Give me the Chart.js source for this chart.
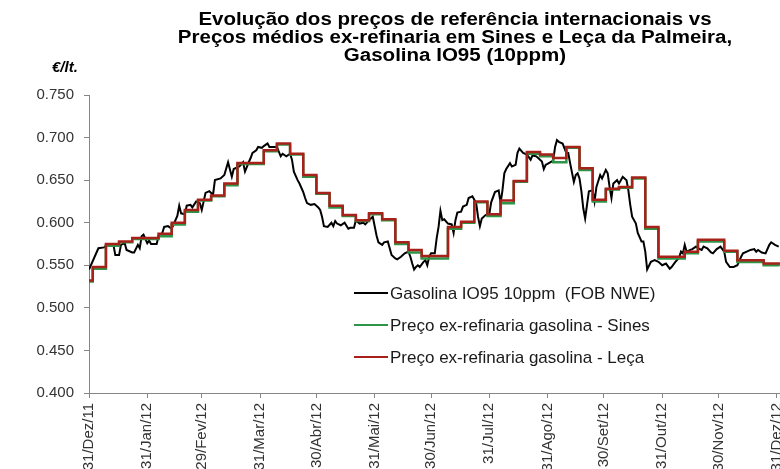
<!DOCTYPE html>
<html>
<head>
<meta charset="utf-8">
<script src="https://cdn.jsdelivr.net/npm/chart.js@4.4.0/dist/chart.umd.min.js"></script>
<style>
  html, body { margin: 0; padding: 0; width: 780px; height: 469px; overflow: hidden; background: #fff; }
  #wrap { width: 800px; height: 500px; }
</style>
</head>
<body>
<div id="wrap"><canvas id="chart" width="800" height="500"></canvas></div>
<script>
// tick positions: days since 31/Dez/11
const tickDays = [0, 31, 60, 91, 121, 152, 182, 213, 244, 274, 305, 335, 366];
const tickLabels = ["31/Dez/11", "31/Jan/12", "29/Fev/12", "31/Mar/12", "30/Abr/12", "31/Mai/12",
  "30/Jun/12", "31/Jul/12", "31/Ago/12", "30/Set/12", "31/Out/12", "30/Nov/12", "31/Dez/12"];
const yTicks = [0.400, 0.450, 0.500, 0.550, 0.600, 0.650, 0.700, 0.750];

const titleLines = [
  "Evolução dos preços de referência internacionais vs",
  "Preços médios ex-refinaria em Sines e Leça da Palmeira,",
  "Gasolina IO95 (10ppm)"
];
const unitLabel = "€/lt.";

// Gasolina IO95 10ppm (FOB NWE)
const fobDays = [0, 5, 8, 10, 13, 14, 16, 17, 19, 20, 23, 24, 26, 27, 28, 29, 31, 32, 33, 36,
  37, 39, 40, 42, 44, 47, 48, 49, 51, 52, 54, 55, 57, 59, 60, 62, 64, 66, 67, 70,
  72, 74, 76, 77, 80, 82, 83, 85, 86, 87, 89, 90, 92, 93, 95, 96, 99, 100, 102, 103,
  105, 107, 108, 109, 111, 112, 114, 115, 116, 118, 120, 122, 123, 124, 125, 127, 129, 130, 131, 132,
  134, 136, 138, 139, 141, 142, 144, 146, 147, 149, 151, 153, 154, 156, 157, 159, 160, 161, 163, 164,
  166, 168, 170, 171, 172, 173, 174, 175, 176, 178, 179, 180, 181, 182, 184, 185, 186, 187, 188, 189,
  191, 193, 194, 195, 196, 198, 199, 201, 202, 204, 206, 207, 208, 209, 211, 213, 214, 216, 218, 219,
  220, 221, 222, 224, 225, 227, 228, 229, 231, 233, 235, 236, 238, 239, 241, 242, 243, 244, 247, 248,
  249, 250, 252, 254, 255, 256, 258, 259, 260, 261, 262, 263, 264, 265, 266, 268, 269, 270, 272, 273,
  275, 276, 277, 278, 279, 281, 282, 283, 284, 286, 287, 288, 289, 291, 292, 294, 295, 296, 297, 299,
  301, 303, 305, 307, 309, 310, 312, 314, 315, 316, 317, 318, 320, 321, 323, 324, 326, 327, 329, 331,
  332, 334, 336, 338, 339, 341, 343, 345, 347, 348, 350, 352, 354, 355, 356, 358, 360, 362, 363, 365, 367];
const fobValues = [0.545, 0.570, 0.571, 0.575, 0.574, 0.562, 0.562, 0.574, 0.576, 0.568, 0.565, 0.565, 0.574, 0.570, 0.584, 0.586, 0.576, 0.579, 0.575, 0.575,
  0.584, 0.588, 0.595, 0.596, 0.593, 0.608, 0.620, 0.611, 0.610, 0.620, 0.621, 0.618, 0.625, 0.623, 0.615, 0.635, 0.637, 0.633, 0.650, 0.652,
  0.656, 0.671, 0.654, 0.663, 0.666, 0.671, 0.660, 0.671, 0.676, 0.682, 0.685, 0.689, 0.688, 0.690, 0.693, 0.689, 0.689, 0.689, 0.678, 0.681,
  0.678, 0.681, 0.674, 0.660, 0.650, 0.646, 0.636, 0.629, 0.623, 0.621, 0.622, 0.618, 0.615, 0.607, 0.596, 0.595, 0.600, 0.596, 0.602, 0.599,
  0.597, 0.600, 0.593, 0.594, 0.594, 0.603, 0.599, 0.600, 0.598, 0.603, 0.607, 0.585, 0.577, 0.574, 0.577, 0.578, 0.570, 0.562, 0.558, 0.557,
  0.560, 0.564, 0.566, 0.560, 0.552, 0.545, 0.548, 0.550, 0.548, 0.554, 0.556, 0.550, 0.560, 0.564, 0.564, 0.582, 0.595, 0.614, 0.603, 0.604,
  0.599, 0.598, 0.588, 0.603, 0.612, 0.613, 0.619, 0.621, 0.629, 0.631, 0.623, 0.607, 0.596, 0.605, 0.609, 0.610, 0.624, 0.636, 0.638, 0.623,
  0.638, 0.658, 0.663, 0.670, 0.666, 0.668, 0.682, 0.687, 0.682, 0.680, 0.674, 0.679, 0.678, 0.676, 0.672, 0.663, 0.668, 0.669, 0.673, 0.689,
  0.697, 0.695, 0.693, 0.682, 0.682, 0.670, 0.648, 0.656, 0.658, 0.652, 0.637, 0.617, 0.605, 0.621, 0.637, 0.638, 0.625, 0.642, 0.656, 0.652,
  0.662, 0.658, 0.642, 0.629, 0.646, 0.650, 0.646, 0.650, 0.654, 0.650, 0.638, 0.621, 0.607, 0.599, 0.588, 0.578, 0.578, 0.566, 0.545, 0.554,
  0.556, 0.554, 0.550, 0.552, 0.546, 0.548, 0.554, 0.559, 0.566, 0.564, 0.574, 0.566, 0.568, 0.569, 0.572, 0.570, 0.568, 0.572, 0.570, 0.565,
  0.564, 0.569, 0.572, 0.566, 0.554, 0.548, 0.548, 0.550, 0.560, 0.564, 0.566, 0.568, 0.569, 0.566, 0.568, 0.565, 0.564, 0.574, 0.577, 0.574, 0.572];

// weekly ex-refinery prices (value holds from that day on)
const stepDays = [0, 2, 9, 16, 23, 30, 37, 44, 51, 58, 65, 72, 79, 86, 93, 100, 107, 114, 121, 128,
  135, 142, 149, 156, 163, 170, 177, 184, 191, 198, 205, 212, 219, 226, 233, 240, 247, 254, 261, 268,
  275, 282, 289, 296, 303, 310, 317, 324, 331, 338, 345, 352, 359, 367];
const sinesValues = [0.531, 0.546, 0.573, 0.577, 0.581, 0.581, 0.584, 0.598, 0.613, 0.626, 0.631, 0.644, 0.669, 0.669, 0.684, 0.692, 0.680, 0.654, 0.634, 0.618,
  0.608, 0.602, 0.610, 0.603, 0.575, 0.565, 0.558, 0.558, 0.593, 0.600, 0.624, 0.608, 0.623, 0.648, 0.681, 0.678, 0.671, 0.688, 0.662, 0.625,
  0.639, 0.641, 0.652, 0.593, 0.558, 0.558, 0.564, 0.578, 0.578, 0.566, 0.554, 0.554, 0.550, 0.549];
const lecaValues = [0.532, 0.548, 0.575, 0.578, 0.582, 0.582, 0.587, 0.600, 0.615, 0.627, 0.632, 0.646, 0.670, 0.670, 0.685, 0.693, 0.681, 0.656, 0.635, 0.620,
  0.609, 0.603, 0.611, 0.604, 0.577, 0.568, 0.561, 0.561, 0.595, 0.601, 0.625, 0.610, 0.626, 0.649, 0.683, 0.680, 0.676, 0.689, 0.664, 0.627,
  0.640, 0.642, 0.653, 0.595, 0.560, 0.560, 0.566, 0.580, 0.580, 0.567, 0.556, 0.556, 0.552, 0.551];

const FONT = "'Liberation Sans', Arial, sans-serif";
const axisGrey = "#868686";

const toPoints = (days, vals) => days.map((d, i) => ({ x: d, y: vals[i] }));

// title + unit label (the source text is a little wider than Arial, so stretch it)
const titlePlugin = {
  id: "titleText",
  afterDraw(chart) {
    const c = chart.ctx;
    c.save();
    c.fillStyle = "#000";
    c.textAlign = "center";
    c.textBaseline = "alphabetic";
    c.font = "bold 18px " + FONT;
    c.save();
    c.translate(455, 0);
    c.scale(1.14, 1);
    titleLines.forEach((t, i) => c.fillText(t, 0, 25 + i * 18));
    c.restore();
    c.font = "italic bold 15px " + FONT;
    c.textAlign = "left";
    c.fillText(unitLabel, 52, 72);
    c.restore();
  },
};

// legend drawn inside the plot area
const legendPlugin = {
  id: "innerLegend",
  afterDraw(chart) {
    const c = chart.ctx;
    c.save();
    c.font = "17px " + FONT;
    c.textBaseline = "middle";
    c.textAlign = "left";
    chart.data.datasets.forEach((ds, i) => {
      const y = 293 + i * 32;
      c.strokeStyle = ds.borderColor;
      c.lineWidth = 2;
      c.beginPath();
      c.moveTo(354, y);
      c.lineTo(388, y);
      c.stroke();
      c.fillStyle = "#1a1a1a";
      c.fillText(ds.label, 390, y + 1);
    });
    c.restore();
  },
};

new Chart(document.getElementById("chart"), {
  type: "line",
  data: {
    datasets: [
      {
        label: "Gasolina IO95 10ppm  (FOB NWE)",
        data: toPoints(fobDays, fobValues),
        borderColor: "#000000",
        borderWidth: 2,
        order: 3,
      },
      {
        label: "Preço ex-refinaria gasolina - Sines",
        data: toPoints(stepDays, sinesValues),
        borderColor: "#2e9447",
        borderWidth: 2.5,
        stepped: true,
        order: 2,
      },
      {
        label: "Preço ex-refinaria gasolina - Leça",
        data: toPoints(stepDays, lecaValues),
        borderColor: "#a8201a",
        borderWidth: 2.5,
        stepped: true,
        order: 1,
      },
    ],
  },
  options: {
    responsive: false,
    animation: false,
    layout: { padding: { top: 95, right: 10, left: 0, bottom: 0 } },
    elements: { point: { radius: 0 }, line: { tension: 0 } },
    plugins: {
      legend: { display: false },
      tooltip: { enabled: false },
      title: { display: false },
    },
    scales: {
      x: {
        type: "linear",
        min: 0,
        max: 372,
        afterFit: (s) => { s.height = 107; },
        afterBuildTicks: (s) => { s.ticks = tickDays.map((v) => ({ value: v })); },
        border: { color: axisGrey, width: 1 },
        grid: { drawOnChartArea: false, tickLength: 5, color: axisGrey },
        ticks: {
          autoSkip: false,
          minRotation: 90,
          maxRotation: 90,
          padding: 5,
          color: "#333",
          font: { family: FONT, size: 15 },
          callback: (v) => tickLabels[tickDays.indexOf(v)],
        },
      },
      y: {
        min: 0.4,
        max: 0.75,
        afterFit: (s) => { s.width = 89; },
        afterBuildTicks: (s) => { s.ticks = yTicks.map((v) => ({ value: v })); },
        border: { color: axisGrey, width: 1 },
        grid: { drawOnChartArea: false, tickLength: 5, color: axisGrey },
        ticks: {
          padding: 10,
          color: "#333",
          font: { family: FONT, size: 15 },
          callback: (v) => v.toFixed(3),
        },
      },
    },
  },
  plugins: [titlePlugin, legendPlugin],
});
</script>
</body>
</html>
